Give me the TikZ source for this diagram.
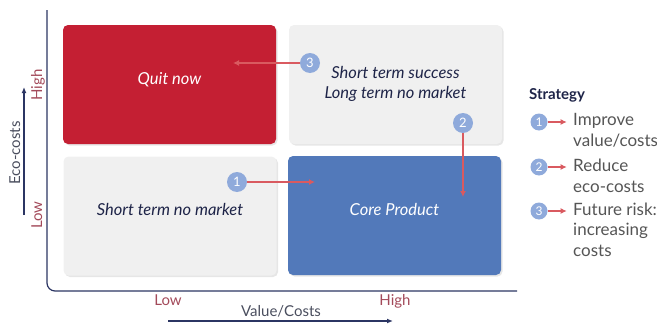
\documentclass[tikz,border=0pt]{standalone}
\usepackage{fontspec}
\setmainfont{Lato}
\usetikzlibrary{positioning,shadows,arrows.meta}
\definecolor{quitred}{HTML}{C41F33}
\definecolor{coreblue}{HTML}{5279BA}
\definecolor{boxgray}{HTML}{F0F0F0}
\definecolor{numblue}{HTML}{8FAADB}
\definecolor{stratred}{HTML}{D95A60}
\definecolor{axisnavy}{HTML}{2B3563}
\definecolor{levelred}{HTML}{A34A5A}
\definecolor{textnavy}{HTML}{1E2448}
\definecolor{leggray}{HTML}{555555}
\definecolor{axisgray}{HTML}{4A4E5E}

\begin{document}
\begin{tikzpicture}[x=1pt,y=-1pt,
    quad/.style={rounded corners=5pt,minimum width=213pt,minimum height=119pt,inner sep=0pt,
      drop shadow={shadow xshift=1.5pt,shadow yshift=-1.5pt,opacity=.2}},
    quadtext/.style={anchor=base,align=center,font=\fontsize{16.5pt}{20pt}\selectfont\itshape},
    num/.style={circle,fill=numblue,text=white,inner sep=0pt,minimum size=20pt,font=\fontsize{13pt}{13pt}\selectfont},
    legnum/.style={num,minimum size=17pt,font=\fontsize{12pt}{12pt}\selectfont},
    strat/.style={draw=stratred,line width=1.6pt,-{Latex[length=6pt,width=6pt]}},
    legtext/.style={anchor=base west,align=left,text=leggray,inner sep=0pt,font=\fontsize{17pt}{20.5pt}\selectfont},
    level/.style={text=levelred,inner sep=0pt,anchor=base,font=\fontsize{15pt}{15pt}\selectfont},
    axislabel/.style={text=axisgray,inner sep=0pt,anchor=base,font=\fontsize{15pt}{15pt}\selectfont},
    axisline/.style={draw=axisnavy,line width=1.2pt}]
  \useasboundingbox (0,0) rectangle (657,324);

  % axes
  \draw[axisline,rounded corners=8pt] (47,10) -- (47,291) -- (517,291);
  \coordinate (ylo) at (24,215);
  \coordinate (yhi) at (24,87);
  \draw[axisline,-{Latex[length=6pt,width=5pt]}] (ylo) -- (yhi);
  \coordinate (xlo) at (168,321);
  \coordinate (xhi) at (393,321);
  \draw[axisline,-{Latex[length=6pt,width=5pt]}] (xlo) -- (xhi);
  \node[axislabel,rotate=90] (ecocosts) at (20,153) {Eco-costs};
  \node[level,rotate=90] (yhigh) at (42,85) {High};
  \node[level,rotate=90] (ylow) at (42,215) {Low};
  \node[level] (xlow) at (168,305.5) {Low};
  \node[level] (xhigh) at (395,305) {High};
  \node[axislabel] (valuecosts) at (281,316.5) {Value/Costs};

  % quadrants
  \node[quad,fill=quitred] (quit) at (169.5,84.5) {};
  \node[quad,fill=boxgray] (success) at (395.5,84.5) {};
  \node[quad,fill=boxgray] (nomarket) at (170,216) {};
  \node[quad,fill=coreblue] (core) at (394.5,215.5) {};
  \node[quadtext,text=white] at (quit.center) {Quit now};
  \node[quadtext,text=textnavy] at ([yshift=-13.5pt]success.center) {Short term success\\Long term no market};
  \node[quadtext,text=textnavy] at ([yshift=1pt]nomarket.center) {Short term no market};
  \node[quadtext,text=white] at (core.center) {Core Product};

  % strategies
  \node[num] (s1) at (237,182) {1};
  \node[num] (s2) at (463,123) {2};
  \node[num] (s3) at (310,63) {3};
  \coordinate (t1) at (315,182);
  \coordinate (t2) at (463,197);
  \coordinate (t3) at (233,63);
  \draw[strat] (s1) -- (t1);
  \draw[strat] (s2) -- (t2);
  \draw[strat] (s3) -- (t3);

  % legend
  \node[anchor=base west,inner sep=0pt,text=textnavy,font=\fontsize{15pt}{15pt}\selectfont\bfseries] (strategy) at (529,99) {Strategy};
  \node[legnum] (l1) at (539,122) {1};
  \node[legnum] (l2) at (539,167) {2};
  \node[legnum] (l3) at (539,211) {3};
  \coordinate[right=19pt of l1] (e1);
  \coordinate[right=19pt of l2] (e2);
  \coordinate[right=19pt of l3] (e3);
  \draw[strat,line width=1.3pt] (l1) -- (e1);
  \draw[strat,line width=1.3pt] (l2) -- (e2);
  \draw[strat,line width=1.3pt] (l3) -- (e3);
  \node[legtext] (d1) at (573,146) {Improve\\value/costs};
  \node[legtext] (d2) at (573,192) {Reduce\\eco-costs};
  \node[legtext] (d3) at (573,256) {Future risk:\\increasing\\costs};
\end{tikzpicture}
\end{document}
